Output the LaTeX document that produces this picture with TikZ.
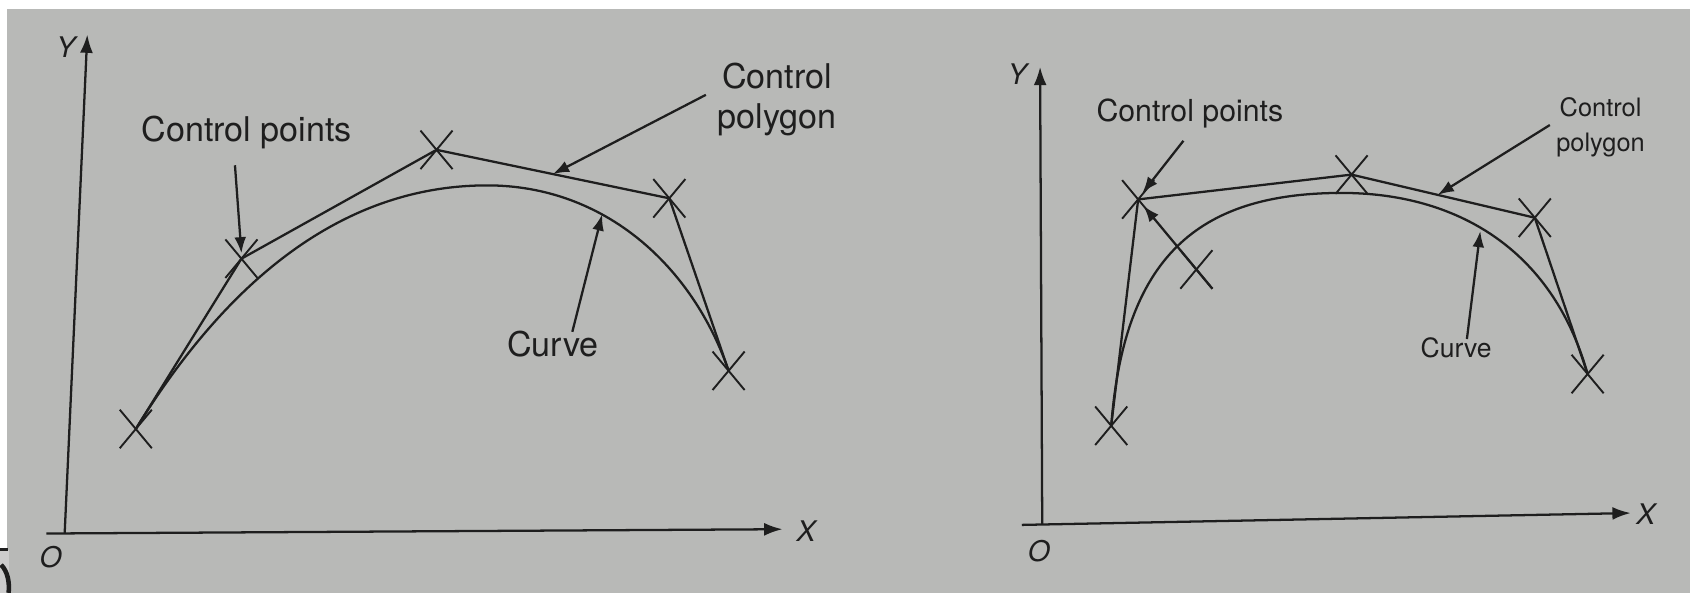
\documentclass[tikz,border=0pt]{standalone}
\usepackage{fontspec}
\setmainfont{TeX Gyre Heros}
\usetikzlibrary{arrows.meta, shapes.misc, calc}

\definecolor{paper}{RGB}{184,185,183}
\definecolor{ink}{RGB}{30,30,30}

\begin{document}
\begin{tikzpicture}[x=0.1mm, y=-0.1mm, line width=0.6pt, draw=ink,
    cpt/.style={cross out, draw=ink, minimum width=2.8mm, minimum height=3.4mm, inner sep=0pt, line width=0.5pt},
    lbl/.style={text=ink, inner sep=0pt, align=center, font=\fontsize{9}{10.5}\selectfont},
    axlbl/.style={text=ink, inner sep=0pt, font=\fontsize{7.5}{9}\selectfont\itshape},
    ptr/.style={-{Latex[length=1.5mm, width=1.1mm]}},
    axis/.style={-{Latex[length=1.7mm, width=1.2mm]}}]
    \useasboundingbox (0,0) rectangle (1568,550);
    \fill[paper] (0,0) rectangle (1568,550);
    \fill[white] (0,0) rectangle (1568,8);
    \fill[white] (0,0) rectangle (6.5,510);
    \fill[gray!40] (0,510) rectangle (8,550);
    \draw[line width=0.8pt] (0,510) -- (7,510);
    \draw[line width=1.2pt] (1,524) .. controls (7,530) and (9,540) .. (8,550);

    % left: axes
    \coordinate (o1) at (60,495);
    \coordinate (xs1) at (43,495);
    \draw[axis] (o1) -- (81,32);
    \draw[axis] (xs1) -- (726,491);
    \node[axlbl] (ylab1) at (61,44) {Y};
    \node[axlbl] (xlab1) at (748,493) {X};
    \node[axlbl] (olab1) at (47,517) {O};

    % left: control points, polygon and curve
    \node[cpt] (p0) at (126,398) {};
    \node[cpt] (p1) at (224,240) {};
    \node[cpt] (p2) at (405,139) {};
    \node[cpt] (p3) at (621,184) {};
    \node[cpt] (p4) at (676,344) {};
    \draw (p0.center) -- (p1.center) -- (p2.center) -- (p3.center) -- (p4.center);
    \draw (p0.center) .. controls (214,255) and (322,172) .. (452,172)
        .. controls (562,172) and (643,248) .. (p4.center) coordinate[pos=0.36] (cv1);
    \coordinate (pg1) at ($(p2)!0.5!(p3)$);

    \node[lbl] (cplab1) at (229,123) {Control points};
    \node[lbl] (pglab1) at (721,92) {Control\\polygon};
    \node[lbl] (cvlab1) at (513,319) {Curve};
    \draw[ptr] ([xshift=-1.1mm, yshift=-1.4mm]cplab1.south) -- ([yshift=0.5mm]p1.center);
    \draw[ptr] ([xshift=-1mm, yshift=0.4mm]pglab1.west) -- (pg1);
    \draw[ptr] ([xshift=1.8mm, yshift=-0.2mm]cvlab1.north) -- (cv1);

    % right: axes
    \coordinate (o2) at (967,487);
    \coordinate (xs2) at (948,487);
    \draw[axis] (o2) -- (965,62);
    \draw[axis] (xs2) -- (1513,476);
    \node[axlbl] (ylab2) at (944,69) {Y};
    \node[axlbl] (xlab2) at (1527,477) {X};
    \node[axlbl] (olab2) at (964,511) {O};

    % right: control points, polygon and curve
    \node[cpt] (q0) at (1031,395) {};
    \node[cpt] (q1) at (1056,185) {};
    \node[cpt] (q2) at (1254,162) {};
    \node[cpt] (q3) at (1424,202) {};
    \node[cpt] (q4) at (1473,347) {};
    \node[cpt] (q5) at (1110,250) {};
    \draw (q0.center) -- (q1.center) -- (q2.center) -- (q3.center) -- (q4.center);
    \draw (q0.center) .. controls (1043,240) and (1110,179) .. (1245,179)
        .. controls (1350,179) and (1440,230) .. (q4.center) coordinate[pos=0.45] (cv2);
    \coordinate (pg2) at ($(q2)!0.47!(q3)$);

    \node[lbl, font=\fontsize{8}{9.5}\selectfont] (cplab2) at (1104,105) {Control points};
    \node[lbl, font=\fontsize{6.7}{9.4}\selectfont] (pglab2) at (1485,118) {Control\\polygon};
    \node[lbl, font=\fontsize{7}{8.5}\selectfont] (cvlab2) at (1351,323) {Curve};
    \draw[ptr] ([xshift=-0.6mm, yshift=-1.1mm]cplab2.south) -- ([xshift=0.4mm, yshift=0.6mm]q1.center);
    \draw[ptr] (q5.south east) -- ([xshift=0.5mm, yshift=-0.6mm]q1.center);
    \draw[ptr] ([xshift=-0.5mm, yshift=0.2mm]pglab2.west) -- (pg2);
    \draw[ptr, shorten >=0.3mm] ([xshift=1mm, yshift=-0.2mm]cvlab2.north) -- (cv2);
\end{tikzpicture}
\end{document}
